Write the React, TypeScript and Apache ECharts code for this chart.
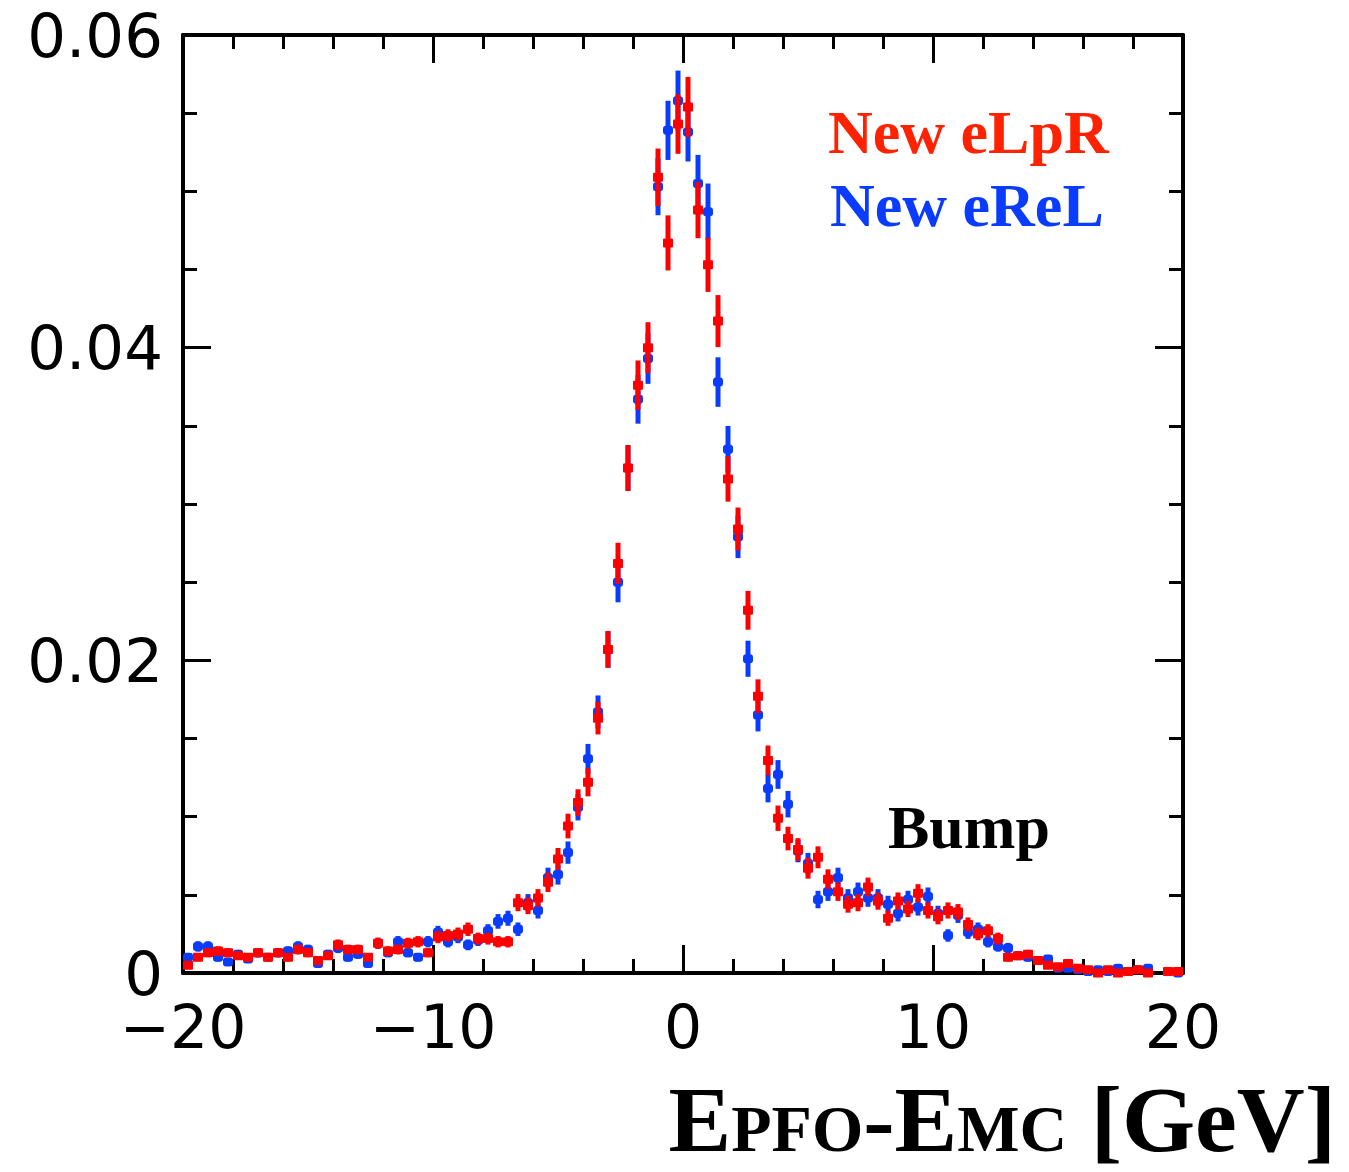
import React, { useEffect, useRef } from "react";
import * as echarts from "echarts";

// Histogram binning: 100 bins of 0.4 GeV from -20 to 20
const BIN_LOW = -20;
const BIN_WIDTH = 0.4;
const N_BINS = 100;

// New eLpR (red) bin contents
const eLpR: (number | null)[] = [
  0.0005, 0.0010, 0.0013, 0.0014, 0.0013, 0.0011, 0.0010, 0.0013, 0.0010, 0.0013,
  0.0010, 0.0015, 0.0013, 0.0008, 0.0011, 0.0018, 0.0015, 0.0015, 0.0010, 0.0019,
  0.0014, 0.0015, 0.0019, 0.0020, 0.0013, 0.0023, 0.0024, 0.0025, 0.0028, 0.0022,
  0.0022, 0.0020, 0.0020, 0.0045, 0.0043, 0.0048, 0.0058, 0.0073, 0.0094, 0.0109,
  0.0122, 0.0163, 0.0207, 0.0262, 0.0323, 0.0376, 0.0400, 0.0509, 0.0467, 0.0543,
  0.0554, 0.0488, 0.0453, 0.0417, 0.0316, 0.0284, 0.0232, 0.0177, 0.0136, 0.0099,
  0.0086, 0.0079, 0.0067, 0.0074, 0.0060, 0.0052, 0.0044, 0.0045, 0.0055, 0.0046,
  0.0035, 0.0046, 0.0041, 0.0051, 0.0040, 0.0036, 0.0040, 0.0039, 0.0031, 0.0025,
  0.0027, 0.0022, 0.0010, 0.0011, 0.0012, 0.0008, 0.0005, 0.0004, 0.0006, 0.0003,
  0.0002, 0.0000, 0.0002, 0.0000, 0.0001, 0.0002, 0.0000, null, 0.0001, 0.0001,
];

// New eReL (blue) bin contents
const eReL: (number | null)[] = [
  0.0010, 0.0017, 0.0017, 0.0010, 0.0007, 0.0012, 0.0009, 0.0013, 0.0010, 0.0013,
  0.0014, 0.0017, 0.0015, 0.0006, 0.0012, 0.0016, 0.0010, 0.0012, 0.0006, 0.0019,
  0.0013, 0.0020, 0.0013, 0.0010, 0.0020, 0.0026, 0.0020, 0.0023, 0.0018, 0.0021,
  0.0027, 0.0033, 0.0035, 0.0028, 0.0045, 0.0040, 0.0061, 0.0063, 0.0077, 0.0106,
  0.0137, 0.0167, 0.0207, 0.0250, 0.0323, 0.0367, 0.0393, 0.0503, 0.0539, 0.0558,
  0.0538, 0.0505, 0.0487, 0.0378, 0.0335, 0.0279, 0.0201, 0.0165, 0.0118, 0.0127,
  0.0108, 0.0078, 0.0070, 0.0047, 0.0052, 0.0061, 0.0048, 0.0052, 0.0048, 0.0048,
  0.0044, 0.0038, 0.0047, 0.0042, 0.0049, 0.0038, 0.0024, 0.0037, 0.0026, 0.0028,
  0.0020, 0.0017, 0.0016, 0.0011, 0.0010, 0.0008, 0.0009, 0.0003, 0.0003, 0.0002,
  0.0001, 0.0002, 0.0001, 0.0003, 0.0001, 0.0002, 0.0003, null, 0.0001, 0.0000,
];

// Statistical error scale (error = scale * sqrt(content)), matched to the bar lengths
const ERR_SCALE = 0.00815;

const xTickLabels: Record<string, string> = { "-20": "\u221220", "-10": "\u221210", "0": "0", "10": "10", "20": "20" };
const yTickLabels: Record<string, string> = { "0": "0", "0.02": "0.02", "0.04": "0.04", "0.06": "0.06" };

const RED = "#ff0000";
const BLUE = "#0a3cff";

function buildPoints(vals: (number | null)[]) {
  const pts: number[][] = [];
  for (let i = 0; i < N_BINS; i++) {
    const v = vals[i];
    if (v === null || v === undefined) continue;
    const x = BIN_LOW + BIN_WIDTH * (i + 0.5);
    pts.push([x, v, ERR_SCALE * Math.sqrt(v)]);
  }
  return pts;
}

function makeSeries(name: string, vals: (number | null)[], color: string, radius: number) {
  return {
    type: "custom",
    name,
    xAxisIndex: 0,
    yAxisIndex: 0,
    data: buildPoints(vals),
    clip: false,
    renderItem: (params: any, api: any) => {
      const x = api.value(0);
      const y = api.value(1);
      const e = api.value(2);
      const c = api.coord([x, y]);
      const top = api.coord([x, y + e]);
      const bot = api.coord([x, Math.max(0, y - e)]);
      return {
        type: "group",
        children: [
          {
            type: "rect",
            shape: { x: c[0] - 2.5, y: top[1], width: 5, height: Math.max(0, bot[1] - top[1]) },
            style: { fill: color },
          },
          {
            type: "rect",
            shape: { x: c[0] - 5, y: c[1] - 4.5, width: 10, height: 9, r: radius },
            style: { fill: color },
          },
        ],
      };
    },
  };
}

const tickFont = "DejaVu Sans";
const serif = "Liberation Serif";

function axisCommon() {
  return {
    axisLine: { show: true, onZero: false, lineStyle: { color: "#000", width: 4 } },
    axisTick: { show: true, inside: true, length: 28, lineStyle: { color: "#000", width: 3 } },
    splitLine: { show: false },
    minorSplitLine: { show: false },
  };
}

export default function App() {
  const ref = useRef<HTMLDivElement>(null);
  useEffect(() => {
    if (!ref.current) return;
    const chart = echarts.init(ref.current, undefined, { renderer: "svg" });
    const xBase = { type: "value", min: -20, max: 20, interval: 10 };
    const yBase = { type: "value", min: 0, max: 0.06, interval: 0.02 };
    chart.setOption({
      animation: false,
      backgroundColor: "#fff",
      grid: { left: 183, right: 166, top: 35, bottom: 199, containLabel: false },
      xAxis: [
        {
          ...xBase,
          position: "bottom",
          ...axisCommon(),
          minorTick: { show: true, splitNumber: 5, length: 14, lineStyle: { color: "#000", width: 3 } },
          axisLabel: {
            show: true,
            margin: 24,
            fontFamily: tickFont,
            fontSize: 60,
            color: "#000",
            formatter: (v: number) => xTickLabels[String(v)] ?? String(v),
          },
        },
        {
          ...xBase,
          position: "top",
          ...axisCommon(),
          minorTick: { show: true, splitNumber: 5, length: 14, lineStyle: { color: "#000", width: 3 } },
          axisLabel: { show: false },
        },
      ],
      yAxis: [
        {
          ...yBase,
          position: "left",
          ...axisCommon(),
          minorTick: { show: true, splitNumber: 4, length: 14, lineStyle: { color: "#000", width: 3 } },
          axisLabel: {
            show: true,
            margin: 20,
            fontFamily: tickFont,
            fontSize: 61,
            color: "#000",
            formatter: (v: number) => yTickLabels[String(Number(v.toFixed(2)))] ?? String(v),
          },
        },
        {
          ...yBase,
          position: "right",
          ...axisCommon(),
          minorTick: { show: true, splitNumber: 4, length: 14, lineStyle: { color: "#000", width: 3 } },
          axisLabel: { show: false },
        },
      ],
      series: [makeSeries("New eReL", eReL, BLUE, 3), makeSeries("New eLpR", eLpR, RED, 1)],
      graphic: [
        {
          type: "text",
          x: 828,
          y: 132,
          style: { text: "New eLpR", fill: "#ff2200", font: `bold 62px "${serif}"`, align: "left", verticalAlign: "middle" },
        },
        {
          type: "text",
          x: 830,
          y: 205,
          style: { text: "New eReL", fill: BLUE, font: `bold 62px "${serif}"`, align: "left", verticalAlign: "middle" },
        },
        {
          type: "text",
          x: 888,
          y: 827,
          style: { text: "Bump", fill: "#000", font: `bold 62px "${serif}"`, align: "left", verticalAlign: "middle" },
        },
        {
          type: "text",
          x: 1336,
          y: 1119,
          style: {
            text: "{b|E}{s|PFO}{b|-E}{s|MC}{b| [GeV]}",
            align: "right",
            verticalAlign: "middle",
            fill: "#000",
            rich: {
              b: { fontFamily: serif, fontWeight: "bold", fontSize: 94, lineHeight: 86, fill: "#000" },
              s: { fontFamily: serif, fontWeight: "bold", fontSize: 66, lineHeight: 60, padding: [19, 0, 0, 0], fill: "#000" },
            },
          },
        },
      ],
    });
    return () => chart.dispose();
  }, []);
  return (
    <div
      ref={ref}
      style={{ position: "fixed", left: 0, top: 0, width: 1349, height: 1172, background: "#fff" }}
    />
  );
}
